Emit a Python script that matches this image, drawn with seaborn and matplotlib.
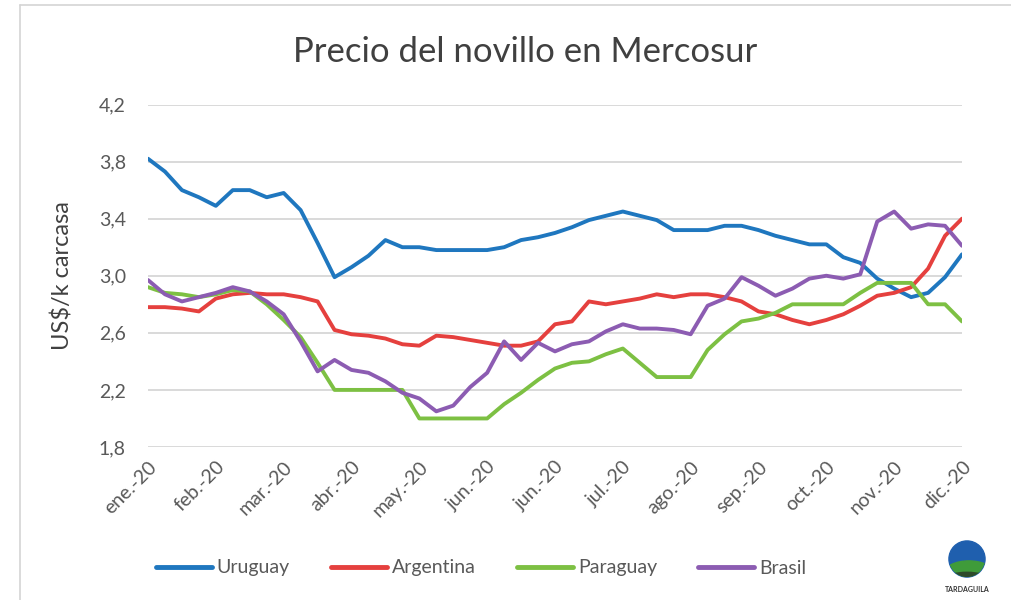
import numpy as np
import pandas as pd
import matplotlib
matplotlib.use("Agg")
import matplotlib.pyplot as plt
import seaborn as sns
from matplotlib.lines import Line2D
from matplotlib.patches import Circle, Ellipse
from matplotlib.ticker import FixedLocator, FuncFormatter

# ---------------- data ----------------
tick_labels = ["ene.-20", "feb.-20", "mar.-20", "abr.-20", "may.-20", "jun.-20",
               "jun.-20", "jul.-20", "ago.-20", "sep.-20", "oct.-20", "nov.-20", "dic.-20"]

uruguay = [3.82, 3.73, 3.60, 3.55, 3.49, 3.60, 3.60, 3.55, 3.58, 3.46,
           3.23, 2.99, 3.06, 3.14, 3.25, 3.20, 3.20, 3.18, 3.18, 3.18,
           3.18, 3.20, 3.25, 3.27, 3.30, 3.34, 3.39, 3.42, 3.45, 3.42,
           3.39, 3.32, 3.32, 3.32, 3.35, 3.35, 3.32, 3.28, 3.25, 3.22,
           3.22, 3.13, 3.09, 2.98, 2.91, 2.85, 2.88, 2.99, 3.15]

argentina = [2.78, 2.78, 2.77, 2.75, 2.84, 2.87, 2.88, 2.87, 2.87, 2.85,
             2.82, 2.62, 2.59, 2.58, 2.56, 2.52, 2.51, 2.58, 2.57, 2.55,
             2.53, 2.51, 2.51, 2.54, 2.66, 2.68, 2.82, 2.80, 2.82, 2.84,
             2.87, 2.85, 2.87, 2.87, 2.85, 2.82, 2.75, 2.73, 2.69, 2.66,
             2.69, 2.73, 2.79, 2.86, 2.88, 2.92, 3.05, 3.28, 3.40]

paraguay = [2.92, 2.88, 2.87, 2.85, 2.87, 2.90, 2.89, 2.80, 2.69, 2.57,
            2.39, 2.20, 2.20, 2.20, 2.20, 2.20, 2.00, 2.00, 2.00, 2.00,
            2.00, 2.10, 2.18, 2.27, 2.35, 2.39, 2.40, 2.45, 2.49, 2.39,
            2.29, 2.29, 2.29, 2.48, 2.59, 2.68, 2.70, 2.74, 2.80, 2.80,
            2.80, 2.80, 2.88, 2.95, 2.95, 2.95, 2.80, 2.80, 2.68]

brasil = [2.97, 2.87, 2.82, 2.85, 2.88, 2.92, 2.89, 2.82, 2.73, 2.54,
          2.33, 2.41, 2.34, 2.32, 2.26, 2.18, 2.14, 2.05, 2.09, 2.22,
          2.32, 2.54, 2.41, 2.53, 2.47, 2.52, 2.54, 2.61, 2.66, 2.63,
          2.63, 2.62, 2.59, 2.79, 2.84, 2.99, 2.93, 2.86, 2.91, 2.98,
          3.00, 2.98, 3.01, 3.38, 3.45, 3.33, 3.36, 3.35, 3.21]

countries = ["Uruguay", "Argentina", "Paraguay", "Brasil"]
colors = ["#1f77bf", "#e5403e", "#7dc043", "#8c5cb2"]
series = [uruguay, argentina, paraguay, brasil]

weeks = np.arange(len(uruguay))
df = pd.concat([pd.DataFrame({"semana": weeks, "precio": s, "pais": c})
                for s, c in zip(series, countries)], ignore_index=True)

# ---------------- style ----------------
sns.set_theme(style="white")
plt.rcParams["font.family"] = ["Lato", "DejaVu Sans"]

W, H = 1011, 600
fig = plt.figure(figsize=(W / 100, H / 100), dpi=100)
fig.patch.set_facecolor("white")

left, right = 148 / W, 962 / W
top, bottom = 1 - 104.5 / H, 1 - 447 / H
ax = fig.add_axes([left, bottom, right - left, top - bottom])

sns.lineplot(data=df, x="semana", y="precio", hue="pais", hue_order=countries,
             palette=colors, linewidth=2.8, ax=ax, legend=True)

ax.set_xlim(0, len(uruguay) - 1)
ax.set_ylim(1.8, 4.2)
yt = [1.8, 2.2, 2.6, 3.0, 3.4, 3.8, 4.2]
ax.yaxis.set_major_locator(FixedLocator(yt))
ax.yaxis.set_major_formatter(FuncFormatter(lambda v, p: f"{v:.1f}".replace(".", ",")))
ax.set_xticks(np.arange(0, len(uruguay), 4))
ax.set_xticklabels(tick_labels, rotation=45, ha="right", rotation_mode="anchor")

ax.grid(axis="y", color="#d9d9d9", linewidth=1.4)
ax.grid(axis="x", visible=False)
ax.set_axisbelow(True)
for sp in ax.spines.values():
    sp.set_visible(False)
ax.tick_params(axis="both", length=0, labelsize=14, labelcolor="#595959")
ax.tick_params(axis="y", pad=16)
ax.tick_params(axis="x", pad=8)
ax.set_xlabel("")
ax.set_ylabel("US$/k carcasa", fontsize=17, color="#404040", labelpad=12)
ax.yaxis.set_label_coords(-(148 - 73) / (962 - 148), 0.5)

# legend at bottom
handles, labels = ax.get_legend_handles_labels()
ax.get_legend().remove()
for h in handles:
    h.set_linewidth(3.5)
fig.legend(handles, labels, loc="center", bbox_to_anchor=(481 / W, 1 - 568 / H),
           ncol=4, frameon=False, fontsize=14, handlelength=2.9, handletextpad=0.25,
           columnspacing=2.1, labelcolor="#595959")

# title
fig.text(525 / W, 1 - 62 / H, "Precio del novillo en Mercosur", ha="center",
         va="baseline", fontsize=25, color="#404040")

# frame of the screenshot
fig.add_artist(Line2D([20 / W, 1], [1 - 5 / H, 1 - 5 / H], color="#d4d4d4", lw=1.2))
fig.add_artist(Line2D([20 / W, 20 / W], [0, 1 - 5 / H], color="#d4d4d4", lw=1.2))

# logo
lax = fig.add_axes([948 / W, 1 - 578 / H, 38 / W, 38 / H])
lax.set_xlim(-1, 1)
lax.set_ylim(-1, 1)
lax.set_aspect("equal")
lax.axis("off")
clip = Circle((0, 0), 0.95, transform=lax.transData)
c1 = Circle((0, 0), 0.95, color="#1f5fae")
lax.add_patch(c1)
e1 = Ellipse((0.1, -0.75), 2.6, 1.3, color="#3f9b3a")
lax.add_patch(e1)
e1.set_clip_path(clip)
e2 = Ellipse((0, -1.05), 2.2, 0.7, color="#2e4a2a")
lax.add_patch(e2)
e2.set_clip_path(clip)
fig.text(967 / W, 1 - 590 / H, "TARDAGUILA", ha="center", va="center",
         fontsize=5, fontweight="bold", color="#333333")

fig.savefig("out.png", dpi=100, facecolor="white")
